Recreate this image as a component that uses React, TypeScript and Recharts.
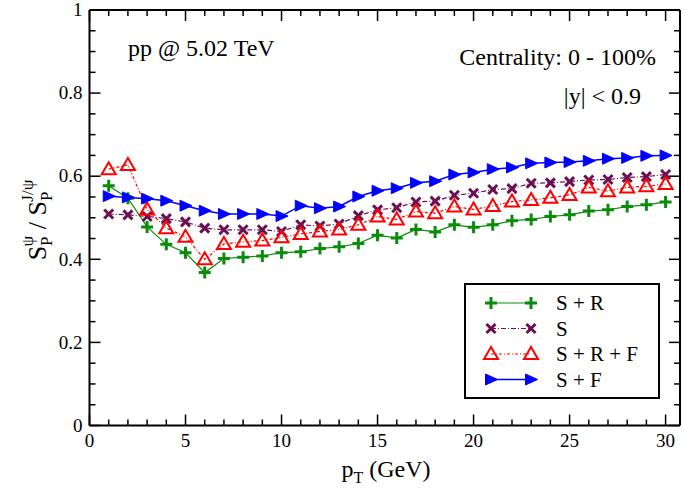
import React from 'react';
import { LineChart, Line, XAxis, YAxis, Legend, Customized } from 'recharts';

const pT = [1, 2, 3, 4, 5, 6, 7, 8, 9, 10, 11, 12, 13, 14, 15, 16, 17, 18, 19, 20, 21, 22, 23, 24, 25, 26, 27, 28, 29, 30];
const sR = [0.577, 0.547, 0.478, 0.436, 0.416, 0.368, 0.402, 0.405, 0.408, 0.416, 0.418, 0.426, 0.430, 0.438, 0.458, 0.451, 0.472, 0.466, 0.483, 0.477, 0.483, 0.493, 0.496, 0.503, 0.507, 0.516, 0.519, 0.527, 0.531, 0.538];
const sOnly = [0.509, 0.507, 0.503, 0.498, 0.490, 0.475, 0.471, 0.471, 0.471, 0.467, 0.483, 0.480, 0.485, 0.505, 0.519, 0.524, 0.538, 0.540, 0.554, 0.559, 0.568, 0.570, 0.583, 0.584, 0.587, 0.591, 0.592, 0.597, 0.599, 0.604];
const sRF = [0.617, 0.627, 0.520, 0.475, 0.454, 0.400, 0.437, 0.442, 0.445, 0.453, 0.461, 0.467, 0.472, 0.483, 0.503, 0.496, 0.515, 0.511, 0.527, 0.520, 0.528, 0.539, 0.543, 0.548, 0.555, 0.573, 0.564, 0.573, 0.576, 0.581];
const sF = [0.552, 0.549, 0.546, 0.541, 0.529, 0.517, 0.509, 0.509, 0.509, 0.504, 0.529, 0.523, 0.527, 0.551, 0.565, 0.571, 0.584, 0.588, 0.604, 0.609, 0.617, 0.621, 0.631, 0.633, 0.634, 0.637, 0.642, 0.644, 0.649, 0.650];

const xTicks = [0, 1, 2, 3, 4, 5, 6, 7, 8, 9, 10, 11, 12, 13, 14, 15, 16, 17, 18, 19, 20, 21, 22, 23, 24, 25, 26, 27, 28, 29, 30];
const yTicks = [0, 0.05, 0.1, 0.15, 0.2, 0.25, 0.3, 0.35, 0.4, 0.45, 0.5, 0.55, 0.6, 0.65, 0.7, 0.75, 0.8, 0.85, 0.9, 0.95, 1];

const data = pT.map((x, i) => ({ pT: x, sR: sR[i], s: sOnly[i], sRF: sRF[i], sF: sF[i] }));

const FONT = 'Liberation Serif';
const GREEN = '#0a8c0a';
const PURPLE = '#6b1050';
const RED = '#ff0000';
const BLUE = '#0000ff';

type Shape = 'plus' | 'cross' | 'tri' | 'right';

function Marker({ shape, cx, cy, color }: { shape: Shape; cx: number; cy: number; color: string }) {
  if (shape === 'plus') {
    return (
      <g>
        <line x1={cx - 6} x2={cx + 6} y1={cy} y2={cy} stroke={color} strokeWidth={3} />
        <line x1={cx} x2={cx} y1={cy - 6} y2={cy + 6} stroke={color} strokeWidth={3} />
      </g>
    );
  }
  if (shape === 'cross') {
    return (
      <g>
        <line x1={cx - 4.5} x2={cx + 4.5} y1={cy - 4.5} y2={cy + 4.5} stroke={color} strokeWidth={3} />
        <line x1={cx - 4.5} x2={cx + 4.5} y1={cy + 4.5} y2={cy - 4.5} stroke={color} strokeWidth={3} />
      </g>
    );
  }
  if (shape === 'tri') {
    return (
      <polygon
        points={`${cx},${cy - 7} ${cx - 7},${cy + 5} ${cx + 7},${cy + 5}`}
        fill="none"
        stroke={color}
        strokeWidth={2}
      />
    );
  }
  return <polygon points={`${cx + 6.5},${cy} ${cx - 5.5},${cy - 5.5} ${cx - 5.5},${cy + 5.5}`} fill={color} stroke={color} strokeWidth={1} />;
}

const series = [
  { key: 'sR', name: 'S + R', color: GREEN, shape: 'plus' as Shape, dash: undefined as string | undefined, width: 1.2 },
  { key: 's', name: 'S', color: PURPLE, shape: 'cross' as Shape, dash: '5 2 1 2', width: 1.2 },
  { key: 'sRF', name: 'S + R + F', color: RED, shape: 'tri' as Shape, dash: '3 2 1 2', width: 1.2 },
  { key: 'sF', name: 'S + F', color: BLUE, shape: 'right' as Shape, dash: undefined as string | undefined, width: 1.5 },
];

const isMajor = (v: number, step: number) => Math.abs(v / step - Math.round(v / step)) < 1e-6;

const XTickBottom = (props: any) => {
  const { x, y, payload } = props;
  const major = isMajor(payload.value, 5);
  return (
    <g>
      <line x1={x} x2={x} y1={y} y2={y - (major ? 11 : 6)} stroke="#000" strokeWidth={1.5} />
      {major && (
        <text x={x} y={y + 21} textAnchor="middle" fontFamily={FONT} fontSize={19} fill="#000">
          {payload.value}
        </text>
      )}
    </g>
  );
};

const XTickTop = (props: any) => {
  const { x, y, payload } = props;
  const major = isMajor(payload.value, 5);
  return <line x1={x} x2={x} y1={y} y2={y + (major ? 11 : 6)} stroke="#000" strokeWidth={1.5} />;
};

const YTickLeft = (props: any) => {
  const { x, y, payload } = props;
  const major = isMajor(payload.value, 0.2);
  const label = String(Math.round(payload.value * 10) / 10);
  return (
    <g>
      <line x1={x} x2={x + (major ? 11 : 6)} y1={y} y2={y} stroke="#000" strokeWidth={1.5} />
      {major && (
        <text x={x - 7} y={y} dy="0.33em" textAnchor="end" fontFamily={FONT} fontSize={19} fill="#000">
          {label}
        </text>
      )}
    </g>
  );
};

const YTickRight = (props: any) => {
  const { x, y, payload } = props;
  const major = isMajor(payload.value, 0.2);
  return <line x1={x} x2={x - (major ? 11 : 6)} y1={y} y2={y} stroke="#000" strokeWidth={1.5} />;
};

const Annotations = () => (
  <g fontFamily={FONT} fill="#000">
    <text x={128} y={56} fontSize={24}>pp @ 5.02 TeV</text>
    <text x={656} y={65} fontSize={24} textAnchor="end">Centrality: 0 - 100%</text>
    <text x={641} y={104} fontSize={24} textAnchor="end">|y| &lt; 0.9</text>
    <text x={386} y={477} fontSize={24} textAnchor="middle">
      p<tspan fontSize={16} dy={6}>T</tspan>
      <tspan dy={-6}> (GeV)</tspan>
    </text>
    <text transform="translate(46,220) rotate(-90)" fontSize={26} textAnchor="middle">
      S<tspan fontSize={17} dy={6}>P</tspan>
      <tspan fontSize={17} dx={-10} dy={-19}>ψ</tspan>
      <tspan dy={13}> / S</tspan>
      <tspan fontSize={17} dy={6}>P</tspan>
      <tspan fontSize={17} dx={-10} dy={-19}>J/ψ</tspan>
    </text>
  </g>
);

const LegendBox = (props: any) => {
  const payload: any[] = props.payload || [];
  return (
    <div style={{ width: 196, height: 116, border: '2px solid #000', boxSizing: 'border-box', background: '#fff' }}>
      <svg width={192} height={112}>
        {series.map((cfg, i) => {
          const entry = payload.find((p: any) => p.dataKey === cfg.key);
          const cy = 18 + i * 25.5;
          return (
            <g key={cfg.key}>
              <line x1={25} x2={65} y1={cy} y2={cy} stroke={cfg.color} strokeWidth={cfg.width} strokeDasharray={cfg.dash} />
              <Marker shape={cfg.shape} cx={25} cy={cy} color={cfg.color} />
              <Marker shape={cfg.shape} cx={65} cy={cy} color={cfg.color} />
              <text x={90} y={cy} dy="0.35em" fontFamily={FONT} fontSize={21} fill="#000">
                {entry ? entry.value : cfg.name}
              </text>
            </g>
          );
        })}
      </svg>
    </div>
  );
};

export default function App() {
  return (
    <div style={{ position: 'absolute', left: 0, top: 0, background: '#fff' }}>
      <LineChart width={685} height={496} data={data} margin={{ top: 0, right: 0, bottom: 30.5, left: 29.5 }}>
        <XAxis
          type="number"
          dataKey="pT"
          domain={[0, 30.75]}
          ticks={xTicks}
          interval={0}
          allowDataOverflow
          height={40}
          tickSize={0}
          tickMargin={0}
          tick={<XTickBottom />}
          axisLine={{ stroke: '#000', strokeWidth: 2 }}
        />
        <XAxis
          xAxisId="top"
          orientation="top"
          type="number"
          dataKey="pT"
          domain={[0, 30.75]}
          ticks={xTicks}
          interval={0}
          allowDataOverflow
          height={10}
          tickSize={0}
          tickMargin={0}
          tick={<XTickTop />}
          axisLine={{ stroke: '#000', strokeWidth: 2 }}
        />
        <YAxis
          type="number"
          domain={[0, 1]}
          ticks={yTicks}
          interval={0}
          allowDataOverflow
          width={60}
          tickSize={0}
          tickMargin={0}
          tick={<YTickLeft />}
          axisLine={{ stroke: '#000', strokeWidth: 2 }}
        />
        <YAxis
          yAxisId="right"
          orientation="right"
          type="number"
          domain={[0, 1]}
          ticks={yTicks}
          interval={0}
          allowDataOverflow
          width={5}
          tickSize={0}
          tickMargin={0}
          tick={<YTickRight />}
          axisLine={{ stroke: '#000', strokeWidth: 2 }}
        />
        <Line
          xAxisId="top"
          yAxisId="right"
          dataKey="sF"
          stroke="none"
          dot={false}
          activeDot={false}
          legendType="none"
          isAnimationActive={false}
        />
        {series.map((s) => (
          <Line
            key={s.key}
            dataKey={s.key}
            name={s.name}
            stroke={s.color}
            strokeWidth={s.width}
            strokeDasharray={s.dash}
            isAnimationActive={false}
            dot={(p: any) => <Marker key={`${s.key}-${p.index}`} shape={s.shape} cx={p.cx} cy={p.cy} color={s.color} />}
            activeDot={false}
          />
        ))}
        <Legend
          layout="vertical"
          align="center"
          verticalAlign="middle"
          content={<LegendBox />}
          wrapperStyle={{ left: 464, top: 283, width: 196, height: 116 }}
        />
        <Customized component={Annotations} />
      </LineChart>
    </div>
  );
}
